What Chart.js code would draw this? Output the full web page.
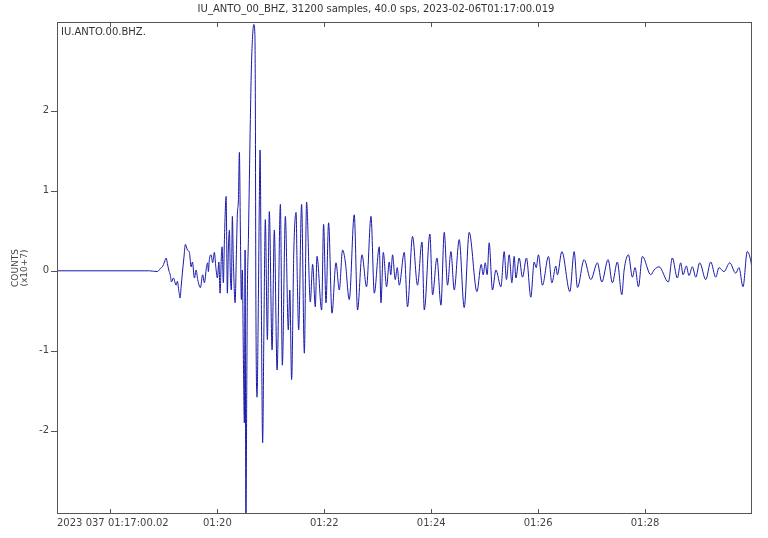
<!DOCTYPE html>
<html>
<head>
<meta charset="utf-8">
<script src="https://cdn.jsdelivr.net/npm/chart.js@4.4.0/dist/chart.umd.min.js"></script>
<style>
  html, body { margin: 0; padding: 0; background: #fff; }
  #wrap { width: 768px; height: 538px; }
</style>
</head>
<body>
<div id="wrap"><canvas id="seismo"></canvas></div>
<script>
const titleText = 'IU_ANTO_00_BHZ, 31200 samples, 40.0 sps, 2023-02-06T01:17:00.019';
const traceLabel = 'IU.ANTO.00.BHZ.';

// seconds after 01:17:00.02 (peaks and troughs)
const seconds = [
  0, 103.7, 112.7, 116.1, 118.3, 120.6, 122.5, 123.9, 125.4, 127.3,
  128.4, 130.7, 133.7, 135.1, 136.8, 138.2, 139.3, 140.7, 142.4, 144.1,
  146.4, 148.6, 150.5, 152.0, 154.2, 156.1, 157.9, 160.9, 163.5, 165.4,
  167.7, 169.1, 169.9, 171.0, 172.9, 174.7, 176.6, 178.3, 180.0, 181.7,
  183.0, 184.5, 185.3, 186.7, 187.9, 189.8, 191.2, 192.3, 193.5, 194.6,
  195.7, 196.8, 197.9, 199.9, 201.3, 202.4, 203.6, 204.7, 205.8, 206.9,
  208.0, 209.2, 210.3, 211.1, 212.0, 212.9, 213.6, 214.8, 215.9, 217.0,
  218.1, 219.3, 220.9, 222.1, 222.6, 223.2, 224.5, 226.0, 227.1, 227.9,
  229.3, 230.8, 232.2, 233.8, 236.1, 238.3, 241.4, 243.9, 247.0, 250.7,
  252.9, 256.3, 259.6, 261.3, 263.3, 265.8, 268.3, 269.7, 271.2, 274.5,
  277.6, 280.1, 284.3, 286.9, 289.9, 291.8, 297.0, 299.2, 301.9, 304.8,
  308.6, 313.1, 316.8, 320.5, 323.6, 328.0, 333.6, 337.3, 342.3, 347.4,
  352.4, 356.1, 361.7, 363.6, 366.2, 369.9, 372.9, 374.6, 376.6, 379.6,
  381.9, 384.1, 389.7, 393.4, 399.0, 404.6, 409.6, 412.2, 418.5, 421.5,
  426.4, 430.9, 434.6, 438.3, 442.1, 445.8, 451.4, 457.0, 462.6, 471.3,
  476.1, 478.3, 480.6, 482.8, 485.0, 488.7, 492.6, 498.2, 501.9, 504.4,
  507.5, 510.5, 513.1, 515.0, 518.7, 522.4, 526.9, 531.8, 535.5, 537.8,
  540.3, 544.8, 551.6, 555.4, 559.9, 561.6, 566.6, 575.6, 580.4, 584.1,
  591.6, 599.1, 606.5, 611.4, 618.5, 623.3, 628.9, 633.9, 636.5, 641.3,
  645.8, 648.8, 652.5, 657.0, 666.4, 670.1, 675.7, 686.1, 690.6, 696.2,
  700.0, 702.6, 706.3, 709.3, 713.1, 716.9, 721.3, 728.1, 733.7, 739.3,
  743.0, 748.6, 755.0, 761.7, 765.4, 769.9, 774.7, 778.9, 780
];

// counts in units of 1e7
const counts = [
  0, 0, -0.01, 0.03, 0.05, 0.11, 0.16, 0.09, 0.01, -0.06,
  -0.14, -0.09, -0.18, -0.13, -0.26, -0.34, -0.2, -0.03, 0.16, 0.33,
  0.26, 0.23, 0.05, 0.11, -0.09, 0.01, -0.11, -0.21, -0.05, -0.15,
  0.04, 0.1, -0.01, 0.14, 0.2, 0.1, 0.23, 0.04, -0.09, 0.11,
  -0.28, 0.2, 0.3, -0.15, 0.39, 0.93, -0.28, 0.26, 0.51, -0.08,
  -0.24, 0.68, 0.14, -0.4, 0.2, 0.7, 0.89, 1.48, 0.51, -0.36,
  0.01, -1.11, -1.9, 0.26, -3.3, -1.61, -0.33, 0.39, 1.14, 1.89,
  2.51, 2.89, 3.08, 2.95, 2.14, -0.36, -1.58, -0.36, 0.89, 1.51,
  -0.36, -2.15, -0.74, 0.64, -0.86, 0.74, -0.99, 0.51, -1.24, 0.83,
  -1.18, 0.68, -0.74, -0.24, -1.36, 0.26, 0.73, -0.11, -0.74, 0.83,
  -1.03, 0.86, -0.39, 0.08, -0.45, 0.18, -0.49, 0.58, -0.4, 0.6,
  -0.53, 0.1, -0.24, 0.26, 0.11, -0.36, 0.7, -0.49, 0.2, -0.2,
  0.68, -0.28, 0.3, -0.4, 0.23, -0.2, 0.11, -0.05, 0.2, -0.11,
  0.04, -0.18, 0.23, -0.45, 0.43, -0.18, 0.36, -0.49, 0.46, -0.3,
  0.16, -0.43, 0.48, -0.18, 0.24, -0.24, 0.39, -0.46, 0.48, -0.26,
  0.08, -0.05, 0.1, -0.05, 0.35, -0.24, 0.01, -0.2, 0.24, -0.11,
  0.2, -0.15, 0.18, -0.09, 0.16, -0.08, 0.16, -0.33, 0.11, 0.04,
  0.2, -0.18, 0.18, -0.15, 0.06, -0.05, 0.24, -0.26, 0.24, -0.21,
  0.14, -0.11, 0.1, -0.14, 0.14, -0.15, 0.11, -0.3, 0.01, 0.2,
  -0.08, 0.04, -0.2, 0.18, -0.05, 0.01, 0.05, -0.14, 0.16, -0.09,
  0.1, -0.05, 0.06, -0.06, 0.05, -0.08, 0.1, -0.11, 0.11, -0.08,
  0.04, -0.01, 0.1, -0.03, 0.04, -0.2, 0.24, 0.11, 0.02
];

const xTickValues = [0, 60, 180, 300, 420, 540, 660, 780];
const xTickLabels = ['2023 037 01:17:00.02', '', '01:20', '01:22', '01:24', '01:26', '01:28', ''];
const yTickValues = [-2, -1, 0, 1, 2];
const yMin = -3.04;
const yMax = 3.11;

const points = seconds.map((s, i) => ({ x: s, y: counts[i] }));

// frame, inward time ticks, channel label
const framePlugin = {
    id: 'frame',
    afterDatasetsDraw(chart) {
        const { ctx, chartArea: a, scales } = chart;
        ctx.save();
        ctx.strokeStyle = '#555';
        ctx.lineWidth = 1;
        ctx.strokeRect(a.left + 0.5, a.top + 0.5, a.right - a.left - 1, a.bottom - a.top - 1);

        ctx.beginPath();
        xTickValues.forEach(v => {
            if (v <= 0 || v >= 780) return;
            const px = Math.round(scales.x.getPixelForValue(v)) + 0.5;
            ctx.moveTo(px, a.bottom);
            ctx.lineTo(px, a.bottom - 5);
            ctx.moveTo(px, a.top);
            ctx.lineTo(px, a.top + 5);
        });
        yTickValues.forEach(v => {
            const py = Math.round(scales.y.getPixelForValue(v)) + 0.5;
            ctx.moveTo(a.left - 6, py);
            ctx.lineTo(a.left, py);
        });
        ctx.stroke();

        ctx.fillStyle = '#333';
        ctx.font = '10px "DejaVu Sans"';
        ctx.textBaseline = 'middle';
        ctx.textAlign = 'left';
        ctx.fillText(traceLabel, a.left + 4, a.top + 10);
        ctx.restore();
    }
};

new Chart(document.getElementById('seismo'), {
    type: 'line',
    data: {
        datasets: [{
            data: points,
            borderColor: 'rgb(25, 25, 170)',
            borderWidth: 1,
            pointRadius: 0,
            cubicInterpolationMode: 'monotone',
            fill: false
        }]
    },
    options: {
        responsive: true,
        maintainAspectRatio: false,
        animation: false,
        layout: { padding: { left: 0, right: 16, top: 0, bottom: 0 } },
        plugins: {
            legend: { display: false },
            tooltip: { enabled: false },
            title: {
                display: true,
                text: titleText,
                color: '#333',
                font: { family: 'DejaVu Sans', size: 10, weight: 'normal', lineHeight: 1.2 },
                padding: { top: 3.5, bottom: 6.5 }
            }
        },
        scales: {
            x: {
                type: 'linear',
                min: 0,
                max: 780,
                grid: { display: false, drawTicks: false },
                border: { display: false },
                afterBuildTicks: scale => {
                    scale.ticks = xTickValues.map(v => ({ value: v }));
                },
                afterFit: scale => { scale.height = 24; },
                ticks: {
                    autoSkip: false,
                    maxRotation: 0,
                    align: 'inner',
                    padding: 3,
                    color: '#444',
                    font: { family: 'DejaVu Sans', size: 10 },
                    callback: (value, index) => xTickLabels[index]
                }
            },
            y: {
                min: yMin,
                max: yMax,
                grid: { display: false, drawTicks: false },
                border: { display: false },
                afterBuildTicks: scale => {
                    scale.ticks = yTickValues.map(v => ({ value: v }));
                },
                afterFit: scale => { scale.width = 57; },
                ticks: {
                    padding: 8,
                    color: '#444',
                    font: { family: 'DejaVu Sans', size: 10 },
                    callback: value => String(value)
                },
                title: {
                    display: true,
                    text: ['COUNTS', '(x10+7)'],
                    color: '#444',
                    font: { family: 'DejaVu Sans', size: 9, lineHeight: 1 },
                    padding: { top: 11, bottom: 0 }
                }
            }
        }
    },
    plugins: [framePlugin]
});
</script>
</body>
</html>
